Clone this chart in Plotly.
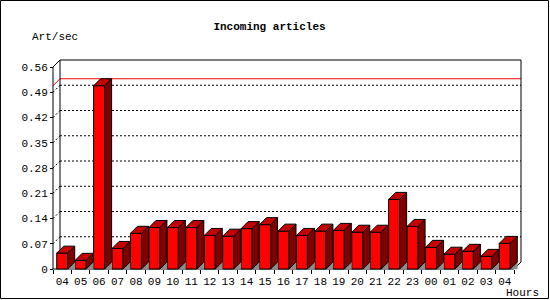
import plotly.graph_objects as go

# ---------------- data ----------------
hours = ["04", "05", "06", "07", "08", "09", "10", "11", "12", "13", "14", "15",
         "16", "17", "18", "19", "20", "21", "22", "23", "00", "01", "02", "03", "04"]
art_per_sec = [0.044, 0.024, 0.508, 0.057, 0.099, 0.115, 0.115, 0.115, 0.093, 0.091,
               0.112, 0.123, 0.105, 0.093, 0.105, 0.107, 0.102, 0.102, 0.193, 0.118,
               0.060, 0.041, 0.049, 0.035, 0.071]
y_ticks = [0, 0.07, 0.14, 0.21, 0.28, 0.35, 0.42, 0.49, 0.56]
y_ticktext = ["0", "0.07", "0.14", "0.21", "0.28", "0.35", "0.42", "0.49", "0.56"]
title_text = "Incoming articles"
y_title = "Art/sec"
x_title = "Hours"

# ---------------- geometry (pixels) ----------------
FW, FH = 550, 300
FRONT_L, FRONT_R = 53, 514      # front floor extent
FLOOR_Y = 269                   # pixel of value 0 (front)
PX_Y = 25.25 / 0.07             # pixels per unit value
DEPTH = 7                       # 3D depth in px
L, R, T, B = 46, 528, 54, 276   # plot area (padded)
W, H = R - L, B - T
n = len(hours)
PX_X = (FRONT_R - FRONT_L) / n

def px2x(p):
    return -0.5 + (p - FRONT_L) / PX_X

def px2y(p):
    return (FLOOR_Y - p) / PX_Y

def pap_x(p):
    return (p - L) / W

def pap_y(p):
    return (B - p) / H

dx = DEPTH / PX_X
dy = DEPTH / PX_Y
hw = 5.5 / PX_X
xs = list(range(n))
xl, xr = -0.5, n - 0.5
ytop = y_ticks[-1]

RED, TOPRED, SIDERED, GREY = "#ff0000", "#c40000", "#800000", "#8c8c8c"
FONT = "Liberation Mono, DejaVu Sans Mono, monospace"

fig = go.Figure()

# front faces of bars
fig.add_trace(go.Bar(x=xs, y=art_per_sec, width=2 * hw,
                     marker=dict(color=RED, line=dict(color="black", width=1)),
                     hoverinfo="skip", showlegend=False))

def polys(fn):
    px_, py_ = [], []
    for x, v in zip(xs, art_per_sec):
        pts = fn(x, v)
        for a, b in pts + [pts[0]]:
            px_.append(a)
            py_.append(b)
        px_.append(None)
        py_.append(None)
    return px_, py_

# floor shadows
sx, sy = polys(lambda x, v: [(x + hw, 0), (x + hw + dx, dy), (x + hw + dx, 0)])
fig.add_trace(go.Scatter(x=sx, y=sy, mode="lines", fill="toself", fillcolor=GREY,
                         line=dict(color=GREY, width=0.5), hoverinfo="skip", showlegend=False))
# side faces
sx, sy = polys(lambda x, v: [(x + hw, 0), (x + hw + dx, dy), (x + hw + dx, v + dy), (x + hw, v)])
fig.add_trace(go.Scatter(x=sx, y=sy, mode="lines", fill="toself", fillcolor=SIDERED,
                         line=dict(color="black", width=1), hoverinfo="skip", showlegend=False))
# top faces
sx, sy = polys(lambda x, v: [(x - hw, v), (x - hw + dx, v + dy), (x + hw + dx, v + dy), (x + hw, v)])
fig.add_trace(go.Scatter(x=sx, y=sy, mode="lines", fill="toself", fillcolor=TOPRED,
                         line=dict(color="black", width=1), hoverinfo="skip", showlegend=False))

shapes = []
def seg(x0, y0, x1, y1, color="black", dash="solid"):
    shapes.append(dict(type="line", xref="x", yref="y", x0=x0, y0=y0, x1=x1, y1=y1,
                       layer="below", line=dict(color=color, width=1, dash=dash)))

# dotted grid on back wall with diagonal from front axis
for v in y_ticks[1:-1]:
    seg(xl, v, xl + dx, v + dy, dash="2px,2px")
    seg(xl + dx, v + dy, xr + dx, v + dy, dash="2px,2px")
# max line (red)
vmax = max(art_per_sec)
seg(xl, vmax, xl + dx, vmax + dy, color=RED)
seg(xl + dx, vmax + dy, xr + dx, vmax + dy, color=RED)
# frame
seg(xl, 0, xl, ytop)
seg(xl, ytop, xl + dx, ytop + dy)
seg(xl + dx, ytop + dy, xr + dx, ytop + dy)
seg(xl + dx, ytop + dy, xl + dx, dy)
seg(xr + dx, ytop + dy, xr + dx, dy)
seg(xl, 0, xr, 0)
seg(xr, 0, xr + dx, dy)
# outer image border
shapes.append(dict(type="rect", xref="paper", yref="paper",
                   x0=pap_x(0.5), x1=pap_x(548.5), y0=pap_y(298.5), y1=pap_y(0.5),
                   line=dict(color="black", width=1)))

fig.update_layout(
    width=FW, height=FH,
    margin=dict(l=L, r=FW - R, t=T, b=FH - B, pad=0),
    paper_bgcolor="white", plot_bgcolor="white",
    showlegend=False,
    shapes=shapes,
    font=dict(family=FONT, size=11, color="black"),
    title=dict(text="<b>" + title_text + "</b>", x=269.5 / FW, xanchor="center",
               y=1 - 26.5 / FH, yanchor="middle", yref="container",
               font=dict(family=FONT, size=11, color="black")),
    xaxis=dict(range=[px2x(L), px2x(R)], anchor="free", position=pap_y(FLOOR_Y),
               showline=False, showgrid=False, zeroline=False,
               tickmode="array", tickvals=xs, ticktext=hours,
               ticks="outside", ticklen=2, tickcolor="rgba(0,0,0,0)",
               tickfont=dict(family=FONT, size=11, color="black"),
               minor=dict(tickmode="array", tickvals=[x - 0.5 for x in range(n + 1)],
                          ticks="outside", ticklen=4, tickcolor="black", tickwidth=1,
                          showgrid=False),
               automargin=False, fixedrange=True),
    yaxis=dict(range=[px2y(B), px2y(T)], anchor="free", position=pap_x(FRONT_L),
               showline=False, showgrid=False, zeroline=False,
               tickmode="array", tickvals=y_ticks, ticktext=y_ticktext,
               ticks="outside", ticklen=3, tickcolor="black", tickwidth=1,
               tickfont=dict(family=FONT, size=11, color="black"),
               automargin=False, fixedrange=True),
    annotations=[
        dict(text=y_title, xref="paper", yref="paper", x=pap_x(30), y=pap_y(37),
             xanchor="left", yanchor="middle", showarrow=False,
             font=dict(family=FONT, size=11, color="black")),
        dict(text=x_title, xref="paper", yref="paper", x=pap_x(504), y=pap_y(292.5),
             xanchor="left", yanchor="middle", showarrow=False,
             font=dict(family=FONT, size=11, color="black")),
    ],
)

fig.write_html("out.html")
